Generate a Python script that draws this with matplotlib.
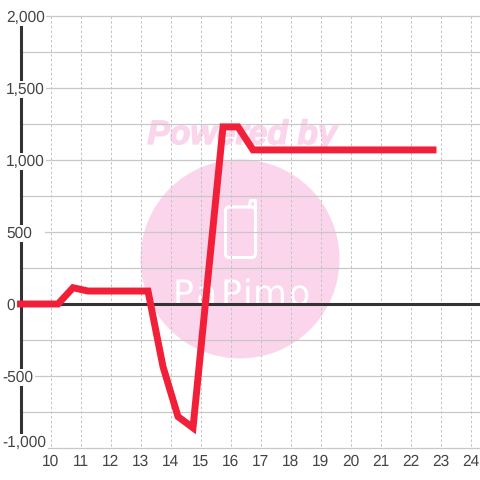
import matplotlib
matplotlib.use('Agg')
import matplotlib.pyplot as plt
import matplotlib.patheffects as pe
from matplotlib.patches import Circle, FancyBboxPatch

plt.rcParams['font.family'] = ['Liberation Sans', 'DejaVu Sans']
plt.rcParams['text.hinting'] = 'no_hinting'

hours = [9, 10.25, 10.75, 11.25, 11.75, 12.25, 12.75, 13.25, 13.75, 14.25, 14.75, 15.75, 16.25, 16.75, 17.75, 18.75, 19.75, 20.75, 21.75, 22.75]
values = [0, 0, 113, 90, 90, 90, 90, 90, -435, -782, -860, 1230, 1230, 1070, 1070, 1070, 1070, 1070, 1070, 1070]
x_ticks = list(range(10, 25))
y_ticks = [2000, 1500, 1000, 500, 0, -500, -1000]
y_minor = [1750, 1250, 750, 250, -250, -750]
y_labels = ['2,000', '1,500', '1,000', '500', '0', '-500', '-1,000']

fig = plt.figure(figsize=(4.8, 4.8), dpi=100)
ax = fig.add_axes([0, 0, 1, 1])
ax.set_xlim(0, 480)
ax.set_ylim(480, 0)
ax.axis('off')

# data to pixel helpers, the chart has fixed 30px per hour and 36px per 250
def px(v):
    return 50.5 + (v - 10) * 30

def py(v):
    return 304 - v * 36 / 250

# watermark
ax.add_patch(Circle((240, 259), 99.5, color='#FBD5EC', lw=0, zorder=1))
ax.text(242, 144, 'Powered by', color='#FBD5EC', fontsize=24.3, fontweight='bold', style='italic',
        ha='center', va='baseline', zorder=1, family=['Liberation Sans'],
        path_effects=[pe.withStroke(linewidth=1, foreground='#FBD5EC')])
ax.add_patch(FancyBboxPatch((225.5, 207), 30, 50.5, boxstyle='round,pad=0,rounding_size=4', fc='none', ec='white', lw=2.2, zorder=1.5))
ax.plot([249, 250.5, 255.5, 255.5], [207, 200.5, 200.5, 210], color='white', lw=2.2, zorder=1.5)
for xp, ch in zip([183, 207, 231, 248, 270, 299], 'PaPimo'):
    ax.text(xp, 305, ch, color='white', fontsize=25, ha='center', va='baseline', zorder=1.5, family=['DejaVu Sans'])

# grid
for t in x_ticks:
    ax.plot([px(t), px(t)], [py(2000), py(-1000)], color='#c4c4c4', lw=0.72, dashes=(2.5, 2.2), zorder=2)
for t in y_ticks + y_minor:
    start = 45 if t == 500 else px(9)
    ax.plot([start, 480], [py(t), py(t)], color='#c8c8c8', lw=0.9, zorder=2)
ax.plot([px(9), px(9)], [py(2000), py(-1000)], color='#333333', lw=2.2, solid_capstyle='butt', zorder=3)
ax.plot([px(9), 480], [py(0), py(0)], color='#333333', lw=2.2, zorder=3)

for t, s in zip(y_ticks, y_labels):
    base = py(t) + 5.5
    if t == -1000:
        base = 447
    left = 2.5 if t < 0 else 6
    ax.text(left, base, s, color='#444444', fontsize=11.2, ha='left', va='baseline', zorder=4,
            bbox=dict(fc='white', ec='none', pad=1.0))
for t in x_ticks:
    ax.text(px(t), 466, str(t), color='#444444', fontsize=11.2, ha='center', va='baseline', zorder=4)

ax.plot([px(v) for v in hours], [py(v) for v in values], color='#F21F38', lw=5,
        solid_capstyle='projecting', solid_joinstyle='miter', zorder=5)

fig.savefig('out.png', dpi=100, facecolor='white')
